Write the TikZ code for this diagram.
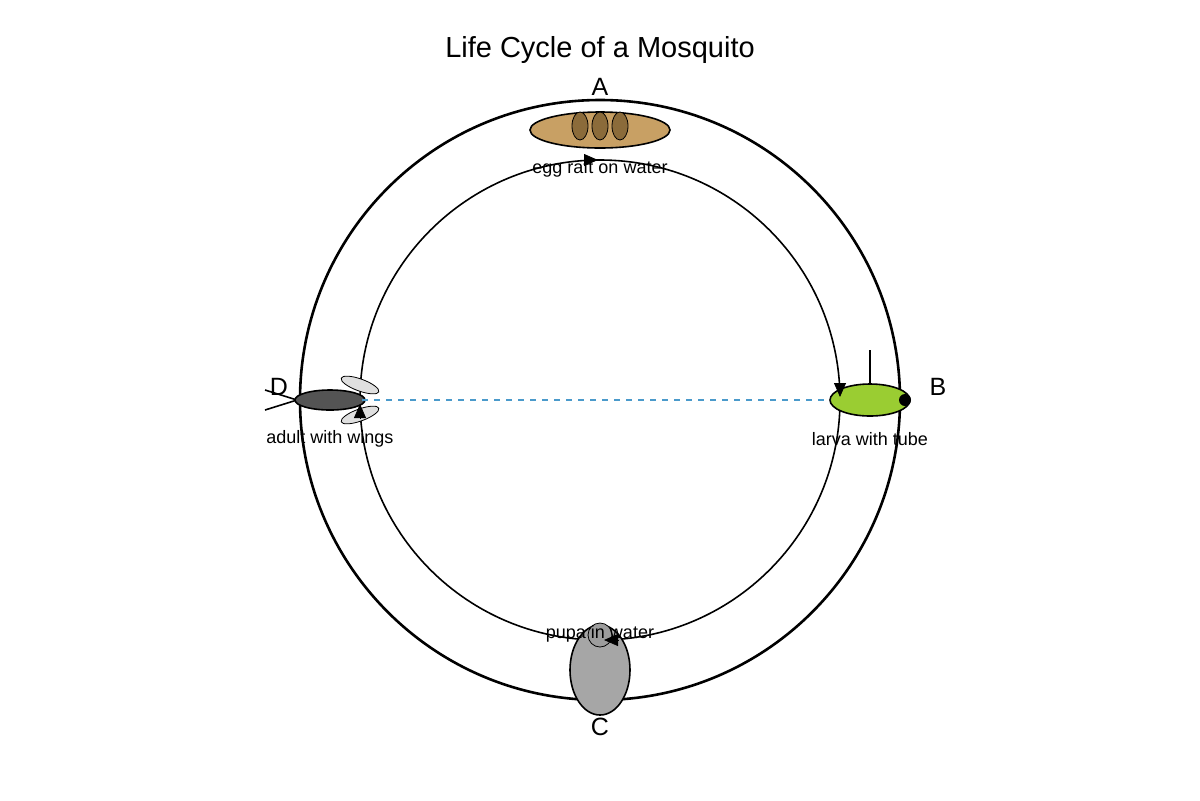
\documentclass[tikz,border=0pt]{standalone}
\usepackage{fontspec}
\setmainfont{Liberation Sans}
\usetikzlibrary{arrows.meta,positioning}
\definecolor{raft}{HTML}{C8A064}
\definecolor{egg}{HTML}{8B6B3A}
\definecolor{larvagreen}{HTML}{9ACD32}
\definecolor{dashblue}{HTML}{4A9ACB}
\tikzset{
  stage/.style={font=\fontsize{12.5}{14}\selectfont},
  caption/.style={font=\fontsize{9}{11}\selectfont},
  part/.style={draw, thick, ellipse},
  flow/.style={-{Triangle[length=7pt,width=6pt]}}
}
\begin{document}
\begin{tikzpicture}[x=0.5pt,y=-0.5pt]
  \useasboundingbox (0,0) rectangle (1200,800);
  \node[font=\fontsize{14.5}{17}\selectfont] (title) at (600,50) {Life Cycle of a Mosquito};
  % cycle
  \draw[line width=1.3pt] (600,400) circle[radius=300];
  \draw[thick] (600,400) circle[radius=240];
  % A: egg raft
  \draw[thick, fill=raft] (600,130) ellipse[x radius=70, y radius=18];
  \foreach \x in {580,600,620}
    \draw[fill=egg] (\x,126) ellipse[x radius=8, y radius=14];
  % B: larva
  \draw[thick] (870,385) -- (870,350);
  \draw[thick, fill=larvagreen] (870,400) ellipse[x radius=40, y radius=16];
  \fill (905,400) circle[radius=6];
  % C: pupa
  \draw[thick, fill=gray!70] (600,670) ellipse[x radius=30, y radius=45];
  \draw[fill=gray!90!black!70] (600,635) circle[radius=12];
  % D: adult
  \draw[thick] (297,400) -- (265,390) (297,400) -- (265,410);
  \draw[thick, fill=black!67] (330,400) ellipse[x radius=35, y radius=10];
  \draw[fill=gray!25] (360,385) ellipse[x radius=20, y radius=6, rotate=-20];
  \draw[fill=gray!25] (360,415) ellipse[x radius=20, y radius=6, rotate=20];
  \draw[dashed, thick, dashblue] (362,400) -- (830,400);
  % arrow heads on the inner circle
  \coordinate (a1) at (585,160); \coordinate (a2) at (598,160);
  \coordinate (b1) at (840,383); \coordinate (b2) at (840,397);
  \coordinate (c1) at (618,640); \coordinate (c2) at (604,640);
  \coordinate (d1) at (360,418); \coordinate (d2) at (360,404);
  \foreach \p/\q in {a1/a2,b1/b2,c1/c2,d1/d2}
    \draw[flow] (\p) -- (\q);
  % labels
  \node[stage] (A) at (600,87) {A};
  \node[stage] (B) at (938,387) {B};
  \node[stage] (C) at (600,727) {C};
  \node[stage] (D) at (279,387) {D};
  \node[caption] (eggtext) at (600,169) {egg raft on water};
  \node[caption] (larvatext) at (870,439) {larva with tube};
  \node[caption] (pupatext) at (600,634) {pupa in water};
  \node[caption] (adulttext) at (330,439) {adult with wings};
\end{tikzpicture}
\end{document}
